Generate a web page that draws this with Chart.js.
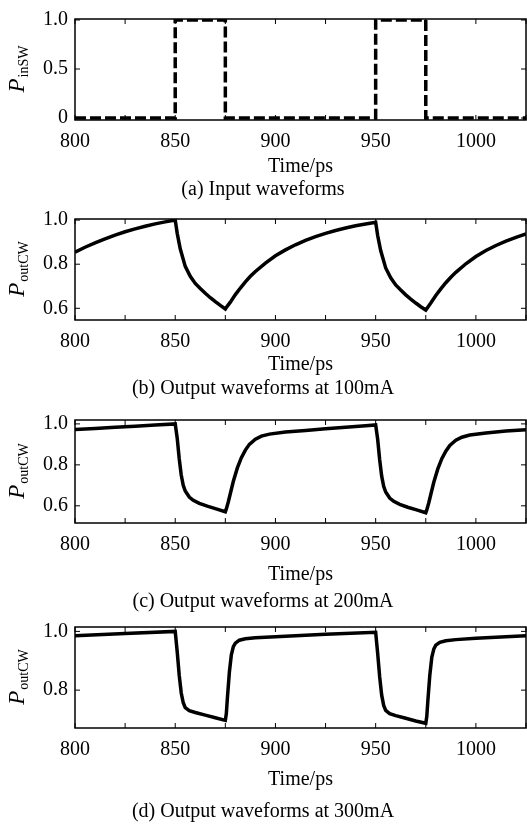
<!DOCTYPE html>
<html>
<head>
<meta charset="utf-8">
<script src="https://cdn.jsdelivr.net/npm/chart.js@4.4.1/dist/chart.umd.min.js"></script>
<style>
	html, body { margin: 0; padding: 0; background: #fff; }
	#page { position: relative; width: 527px; height: 826px; overflow: hidden; }
	canvas { position: absolute; left: 0; }
</style>
</head>
<body>
<div id="page"></div>
<script>

// shared time axis (ps), ticks every 25, labels only every 50
const xTicks = [800, 825, 850, 875, 900, 925, 950, 975, 1000, 1025];

// (a) input switching pulse
const timeA = [800, 850, 850, 875, 875, 950, 950, 975, 975, 1025];
const powerA = [0, 0, 1, 1, 0, 0, 1, 1, 0, 0];
const yTicksA = [0, 0.5, 1];

// (b) output at 100mA
const timeB = [800, 805, 810, 815, 820, 825, 830, 835, 840, 845, 850,
	851, 852.5, 855, 857.5, 860, 862.5, 865, 867.5, 870, 872.5, 875,
	876, 877.5, 880, 882.5, 885, 887.5, 890, 895, 900, 905, 910, 915, 920, 925, 930, 935, 940, 945, 950,
	951, 952.5, 955, 957.5, 960, 962.5, 965, 967.5, 970, 972.5, 975,
	976, 977.5, 980, 982.5, 985, 987.5, 990, 995, 1000, 1005, 1010, 1015, 1020, 1025];
const powerB = [0.855, 0.877, 0.897, 0.915, 0.932, 0.947, 0.96, 0.972, 0.983, 0.992, 1.0,
	0.94, 0.87, 0.79, 0.745, 0.713, 0.69, 0.668, 0.648, 0.63, 0.613, 0.597,
	0.61, 0.628, 0.662, 0.692, 0.72, 0.745, 0.767, 0.805, 0.838, 0.865, 0.888, 0.908, 0.925, 0.94, 0.953, 0.964, 0.974, 0.982, 0.99,
	0.93, 0.862, 0.783, 0.738, 0.706, 0.683, 0.661, 0.642, 0.624, 0.607, 0.592,
	0.605, 0.624, 0.658, 0.688, 0.716, 0.741, 0.763, 0.802, 0.835, 0.862, 0.885, 0.905, 0.922, 0.937];
const yTicksB = [0.6, 0.8, 1.0];

// (c) output at 200mA
const timeC = [800, 810, 820, 830, 840, 850,
	851, 852, 853, 854, 855, 857, 859, 862, 866, 870, 875,
	875.5, 876.5, 877.5, 879, 881, 883, 885, 887, 890, 893, 897, 905, 915, 925, 935, 945, 950,
	951, 952, 953, 954, 955, 957, 959, 962, 966, 970, 975,
	975.5, 976.5, 977.5, 979, 981, 983, 985, 987, 990, 993, 997, 1005, 1015, 1025];
const powerC = [0.973, 0.978, 0.984, 0.989, 0.995, 1.0,
	0.93, 0.83, 0.75, 0.70, 0.672, 0.643, 0.627, 0.612, 0.598, 0.586, 0.571,
	0.585, 0.62, 0.66, 0.72, 0.785, 0.835, 0.872, 0.9, 0.925, 0.94, 0.95, 0.96, 0.968, 0.976, 0.984, 0.991, 0.995,
	0.925, 0.825, 0.745, 0.695, 0.667, 0.638, 0.622, 0.607, 0.593, 0.581, 0.566,
	0.58, 0.615, 0.655, 0.715, 0.78, 0.83, 0.867, 0.895, 0.92, 0.935, 0.946, 0.956, 0.965, 0.972];
const yTicksC = [0.6, 0.8, 1.0];

// (d) output at 300mA
const timeD = [800, 825, 850,
	851, 852, 853, 854, 855, 857, 860, 865, 870, 875,
	875.5, 876, 877, 878, 879, 880, 882, 885, 890, 900, 925, 950,
	951, 952, 953, 954, 955, 957, 960, 965, 970, 975,
	975.5, 976, 977, 978, 979, 980, 982, 985, 990, 1000, 1025];
const powerD = [0.985, 0.993, 1.0,
	0.93, 0.85, 0.79, 0.757, 0.74, 0.73, 0.724, 0.715, 0.706, 0.697,
	0.72, 0.77, 0.86, 0.92, 0.948, 0.96, 0.97, 0.975, 0.978, 0.982, 0.99, 0.997,
	0.925, 0.845, 0.783, 0.748, 0.731, 0.72, 0.713, 0.704, 0.695, 0.687,
	0.71, 0.76, 0.85, 0.912, 0.94, 0.953, 0.963, 0.968, 0.972, 0.977, 0.985];
const yTicksD = [0.8, 1.0];

const SERIF = "'Liberation Serif', 'Times New Roman', serif";
const TICK = 5;

// box round the plot area with inward ticks on all four sides
const frameTicks = {
	id: 'frameTicks',
	afterDatasetsDraw(chart){
		const {ctx, chartArea: a, scales: {x, y}} = chart;
		ctx.save();
		ctx.strokeStyle = '#000';
		ctx.lineWidth = 1.5;
		ctx.strokeRect(a.left, a.top, a.right - a.left, a.bottom - a.top);

		ctx.lineWidth = 1;
		ctx.beginPath();
		x.ticks.forEach( (t) => {
			var px = x.getPixelForValue(t.value);
			ctx.moveTo(px, a.bottom); ctx.lineTo(px, a.bottom - TICK);
			ctx.moveTo(px, a.top); ctx.lineTo(px, a.top + TICK);
		});
		y.ticks.forEach( (t) => {
			var py = y.getPixelForValue(t.value);
			ctx.moveTo(a.left, py); ctx.lineTo(a.left + TICK, py);
			ctx.moveTo(a.right, py); ctx.lineTo(a.right - TICK, py);
		});
		ctx.stroke();
		ctx.restore();
	}
};

// rotated "P" with a subscript, chart.js titles can't do subscripts
const yTitle = {
	id: 'yTitle',
	afterDraw(chart, args, opts){
		const {ctx, chartArea: a} = chart;
		const mainFont = 'italic 23px ' + SERIF;
		const subFont = '14px ' + SERIF;

		ctx.save();
		ctx.font = mainFont;
		var wMain = ctx.measureText(opts.main).width;
		ctx.font = subFont;
		var wSub = ctx.measureText(opts.sub).width;

		var cy = (a.top + a.bottom) / 2;
		ctx.translate(24, cy + (wMain + wSub) / 2);
		ctx.rotate(-Math.PI / 2);
		ctx.fillStyle = '#000';
		ctx.textBaseline = 'alphabetic';
		ctx.font = mainFont;
		ctx.fillText(opts.main, 0, 0);
		ctx.font = subFont;
		ctx.fillText(opts.sub, wMain + 1, 4);
		ctx.restore();
	}
};

// top = pixel top of plot box, h = plot box height, timeOff / capOff = text centres below the box
const panels = [
	{id: 'a', time: timeA, power: powerA, yTicks: yTicksA, min: -0.02, max: 1.01, sub: 'inSW',
		caption: '(a) Input waveforms', dash: [11, 4], top: 14, h: 106, timeOff: 47, capOff: 70},
	{id: 'b', time: timeB, power: powerB, yTicks: yTicksB, min: 0.547, max: 1.005, sub: 'outCW',
		caption: '(b) Output waveforms at 100mA', dash: [], top: 214, h: 106, timeOff: 45, capOff: 69},
	{id: 'c', time: timeC, power: powerC, yTicks: yTicksC, min: 0.516, max: 1.019, sub: 'outCW',
		caption: '(c) Output waveforms at 200mA', dash: [], top: 415, h: 108, timeOff: 52, capOff: 79},
	{id: 'd', time: timeD, power: powerD, yTicks: yTicksD, min: 0.671, max: 1.015, sub: 'outCW',
		caption: '(d) Output waveforms at 300mA', dash: [], top: 622, h: 106, timeOff: 52, capOff: 84}
];

const page = document.getElementById('page');

panels.forEach( (p) => {

	var canvas = document.createElement('canvas');
	canvas.id = 'chart' + p.id;
	canvas.width = 527;
	canvas.height = 14 + p.h + p.capOff + 12;
	canvas.style.top = (p.top - 14) + 'px';
	page.appendChild(canvas);

	var tickFont = {family: SERIF, size: 20, lineHeight: 1.2};

	new Chart(canvas, {
		type: 'line',
		data: {
			datasets: [{
				data: p.time.map( (t, i) => ({x: t, y: p.power[i]}) ),
				borderColor: '#000',
				borderWidth: 3.5,
				borderDash: p.dash,
				borderJoinStyle: 'miter',
				pointRadius: 0,
				tension: 0
			}]
		},
		options: {
			responsive: false,
			animation: false,
			layout: {padding: {top: 14, right: 1, left: 0, bottom: 0}},
			scales: {
				x: {
					type: 'linear',
					min: 800,
					max: 1025,
					afterBuildTicks: (s) => { s.ticks = xTicks.map( (v) => ({value: v}) ); },
					afterFit: (s) => {
						s.height = p.timeOff + 10;
						// no extra room for label overhang, the box runs to the page edge
						s.paddingLeft = 0;
						s.paddingRight = 0;
					},
					grid: {display: false, drawTicks: false},
					border: {display: false},
					ticks: {
						autoSkip: false, maxRotation: 0, padding: 10, color: '#000', font: tickFont,
						callback: (v) => v % 50 === 0 ? String(v) : ''
					},
					title: {display: true, text: 'Time/ps', color: '#000', padding: 0,
						font: {family: SERIF, size: 20, lineHeight: 1}}
				},
				y: {
					min: p.min,
					max: p.max,
					afterBuildTicks: (s) => { s.ticks = p.yTicks.map( (v) => ({value: v}) ); },
					afterFit: (s) => { s.width = 75; },
					grid: {display: false, drawTicks: false},
					border: {display: false},
					ticks: {
						padding: 7, color: '#000', font: tickFont,
						callback: (v) => v === 0 ? '0' : v.toFixed(1)
					}
				}
			},
			plugins: {
				legend: {display: false},
				tooltip: {enabled: false},
				title: {
					display: true, position: 'bottom', text: p.caption, color: '#000',
					font: {family: SERIF, size: 20, weight: 'normal', lineHeight: 1},
					padding: {top: p.capOff - p.timeOff - 20, bottom: 2}
				},
				yTitle: {main: 'P', sub: p.sub}
			}
		},
		plugins: [frameTicks, yTitle]
	});
});

</script>
</body>
</html>
